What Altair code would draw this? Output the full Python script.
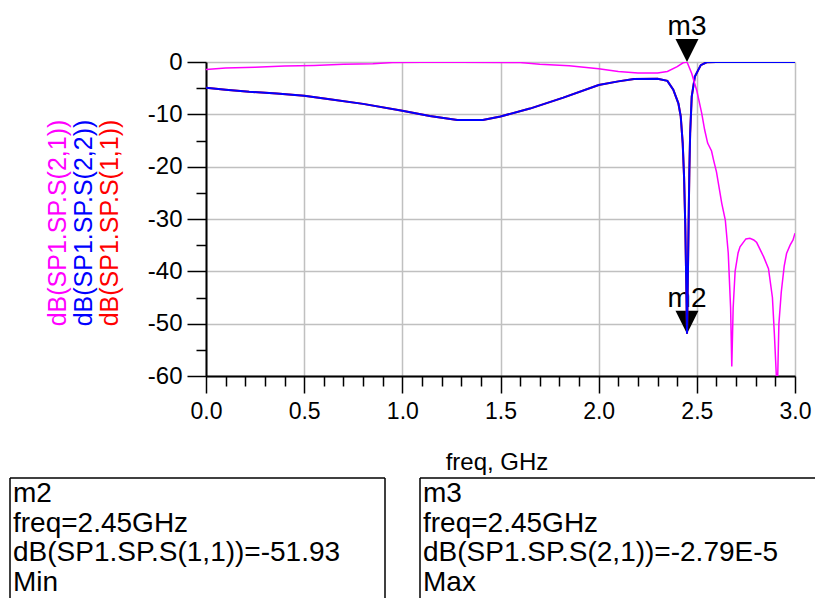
import altair as alt
import pandas as pd

# ---- data ----
freq_s21 = [0.00, 0.10, 0.25, 0.40, 0.55, 0.70, 0.85, 0.95, 1.10, 1.30, 1.60, 1.70, 1.85,
            2.00, 2.10, 2.20, 2.30, 2.35, 2.40, 2.43, 2.45, 2.474, 2.50, 2.525, 2.54,
            2.555, 2.575, 2.585, 2.60, 2.627, 2.645, 2.66, 2.672, 2.678, 2.685, 2.695,
            2.71, 2.72, 2.75, 2.77, 2.79, 2.805, 2.84, 2.865, 2.885, 2.895, 2.905, 2.912,
            2.918, 2.93, 2.945, 2.957, 2.975, 2.99, 3.00]
s21_db = [-1.45, -1.15, -1.0, -0.75, -0.65, -0.45, -0.35, -0.1, -0.05, -0.05, -0.1, -0.45, -0.7,
          -1.3, -1.8, -2.1, -2.1, -1.8, -0.9, -0.15, 0.0, -2.2, -5.5, -9.8, -13.0,
          -15.5, -17.0, -18.7, -21.0, -27.0, -30.2, -36.5, -47.0, -58.2, -47.0, -40.0,
          -36.5, -35.3, -33.8, -33.7, -34.0, -34.5, -37.2, -39.5, -45.0, -52.0, -60.0, -60.0,
          -50.0, -44.0, -39.0, -36.6, -35.0, -34.0, -32.7]

freq_s11 = [0.00, 0.10, 0.22, 0.36, 0.50, 0.63, 0.80, 1.00, 1.14, 1.28, 1.41, 1.50, 1.65,
            1.82, 2.00, 2.10, 2.18, 2.30, 2.35, 2.38, 2.406, 2.418, 2.428, 2.435, 2.441,
            2.446, 2.45, 2.454, 2.458, 2.462, 2.466, 2.474, 2.49, 2.52, 2.55, 2.60, 3.00]
s11_db = [-4.9, -5.3, -5.7, -6.0, -6.45, -7.1, -8.0, -9.3, -10.3, -11.1, -11.1, -10.4, -8.9,
          -6.8, -4.4, -3.7, -3.25, -3.2, -3.6, -5.3, -7.9, -10.4, -15.5, -22.0, -31.0,
          -42.0, -51.93, -42.0, -31.0, -20.6, -13.6, -6.6, -2.8, -0.6, -0.05, 0.0, 0.0]
s22_db = list(s11_db)

trace_labels = ["dB(SP1.SP.S(2,1))", "dB(SP1.SP.S(2,2))", "dB(SP1.SP.S(1,1))"]
trace_colors = ["#ff00ff", "#0000ff", "#ff0000"]

marker_names = ["m2", "m3"]
marker_freq = [2.45, 2.45]
marker_db = [-51.93, -2.79e-5]
marker_trace = ["dB(SP1.SP.S(1,1))", "dB(SP1.SP.S(2,1))"]
marker_value_text = ["-51.93", "-2.79E-5"]
marker_kind = ["Min", "Max"]

x_ticks = [round(i * 0.1, 1) for i in range(31)]
y_ticks = list(range(-60, 1, 5))
x_title = "freq, GHz"

FONT = "Liberation Sans"

# ---- scales / axes ----
xscale = alt.Scale(domain=[0, 3], nice=False, zero=False)
yscale = alt.Scale(domain=[-60, 0], nice=False, zero=False)

maj_x = "abs(datum.value*2 - round(datum.value*2)) < 0.001"
maj_y = "abs(datum.value % 10) < 0.001"

x_axis = alt.Axis(
    values=x_ticks, format=".1f", title=None,
    labelExpr=f"({maj_x}) ? datum.label : ''",
    tickSize={"condition": {"test": maj_x, "value": 17}, "value": 10},
    gridOpacity={"condition": {"test": maj_x, "value": 1}, "value": 0},
    grid=True, gridColor="#c0c0c0", gridWidth=1.5,
    labelFlush=False, labelOverlap=False, labelPadding=7,
    labelFont=FONT, labelFontSize=23, labelColor="black",
    tickColor="black", tickWidth=1.5, domainColor="black", domainWidth=2,
)
y_axis = alt.Axis(
    values=y_ticks, title=None,
    labelExpr=f"({maj_y}) ? ('' + datum.value) : ''",
    tickSize={"condition": {"test": maj_y, "value": 19}, "value": 10},
    gridOpacity={"condition": {"test": maj_y, "value": 1}, "value": 0},
    grid=True, gridColor="#c0c0c0", gridWidth=1.5,
    labelFlush=False, labelOverlap=False, labelPadding=5,
    labelFont=FONT, labelFontSize=24, labelColor="black",
    tickColor="black", tickWidth=1.5, domainColor="black", domainWidth=2,
)

X = alt.X("freq:Q", scale=xscale, axis=x_axis)
Y = alt.Y("db:Q", scale=yscale, axis=y_axis)

df21 = pd.DataFrame({"freq": freq_s21, "db": s21_db})
df11 = pd.DataFrame({"freq": freq_s11, "db": s11_db})
df22 = pd.DataFrame({"freq": freq_s11, "db": s22_db})
dfm = pd.DataFrame({"freq": marker_freq, "db": marker_db, "name": marker_names})

tri = "M0,0L-1,-2L1,-2Z"
markers = alt.Chart(dfm).mark_point(shape=tri, size=529, filled=True, color="black",
                                    opacity=1, strokeWidth=0).encode(x=X, y=Y)
marker_lbl = alt.Chart(dfm).mark_text(font=FONT, fontSize=28, color="black", align="center",
                                      baseline="alphabetic", dy=-27).encode(x=X, y=Y, text="name:N")

line11 = alt.Chart(df11).mark_line(color=trace_colors[2], strokeWidth=2, clip=True).encode(x=X, y=Y, order="freq:Q")
line22 = alt.Chart(df22).mark_line(color=trace_colors[1], strokeWidth=2, clip=True).encode(x=X, y=Y, order="freq:Q")
line21 = alt.Chart(df21).mark_line(color=trace_colors[0], strokeWidth=1.5, clip=True).encode(x=X, y=Y, order="freq:Q")

one = pd.DataFrame({"a": [0]})

# y-axis titles (three coloured lines)
titles = []
for i, (lab, col) in enumerate(zip(trace_labels, trace_colors)):
    titles.append(
        alt.Chart(one).mark_text(text=lab, font=FONT, fontSize=25, color=col, angle=270,
                                 align="center", baseline="middle")
        .encode(x=alt.value(-148 + 26 * i), y=alt.value(161))
    )

xtitle = alt.Chart(one).mark_text(text=x_title, font=FONT, fontSize=24, color="black",
                                  align="center", baseline="middle").encode(
    x=alt.value(291), y=alt.value(401))

# marker readout boxes
box_layers = []
box_left = [-196, 214]
box_right = [179, 640]
for i in range(2):
    lines = [marker_names[i], f"freq={marker_freq[i]:.2f}GHz",
             f"{marker_trace[i]}={marker_value_text[i]}", marker_kind[i]]
    box_layers.append(alt.Chart(one).mark_rule(color="black", strokeWidth=1.5).encode(
        x=alt.value(box_left[i]), x2=alt.value(box_right[i]), y=alt.value(416), y2=alt.value(416)))
    box_layers.append(alt.Chart(one).mark_rule(color="black", strokeWidth=1.5).encode(
        x=alt.value(box_left[i]), x2=alt.value(box_left[i]), y=alt.value(416), y2=alt.value(560)))
    box_layers.append(alt.Chart(one).mark_rule(color="black", strokeWidth=1.5).encode(
        x=alt.value(box_right[i]), x2=alt.value(box_right[i]), y=alt.value(416), y2=alt.value(560)))
    box_layers.append(alt.Chart(one).mark_text(text="\n".join(lines), lineBreak="\n", lineHeight=29.5,
                                               font=FONT, fontSize=28, color="black",
                                               align="left", baseline="alphabetic").encode(
        x=alt.value(box_left[i] + 3), y=alt.value(440)))

chart = alt.layer(
    markers, marker_lbl, line11, line22, line21, *titles, xtitle, *box_layers
).properties(
    width=589, height=314,
    padding={"left": 198, "top": 54, "right": 20, "bottom": 222},
    autosize=alt.AutoSizeParams(type="none"),
).configure_view(
    stroke="black", strokeWidth=2
).configure(background="white")

chart.save("out.html", embed_options={"renderer": "svg", "actions": False})
